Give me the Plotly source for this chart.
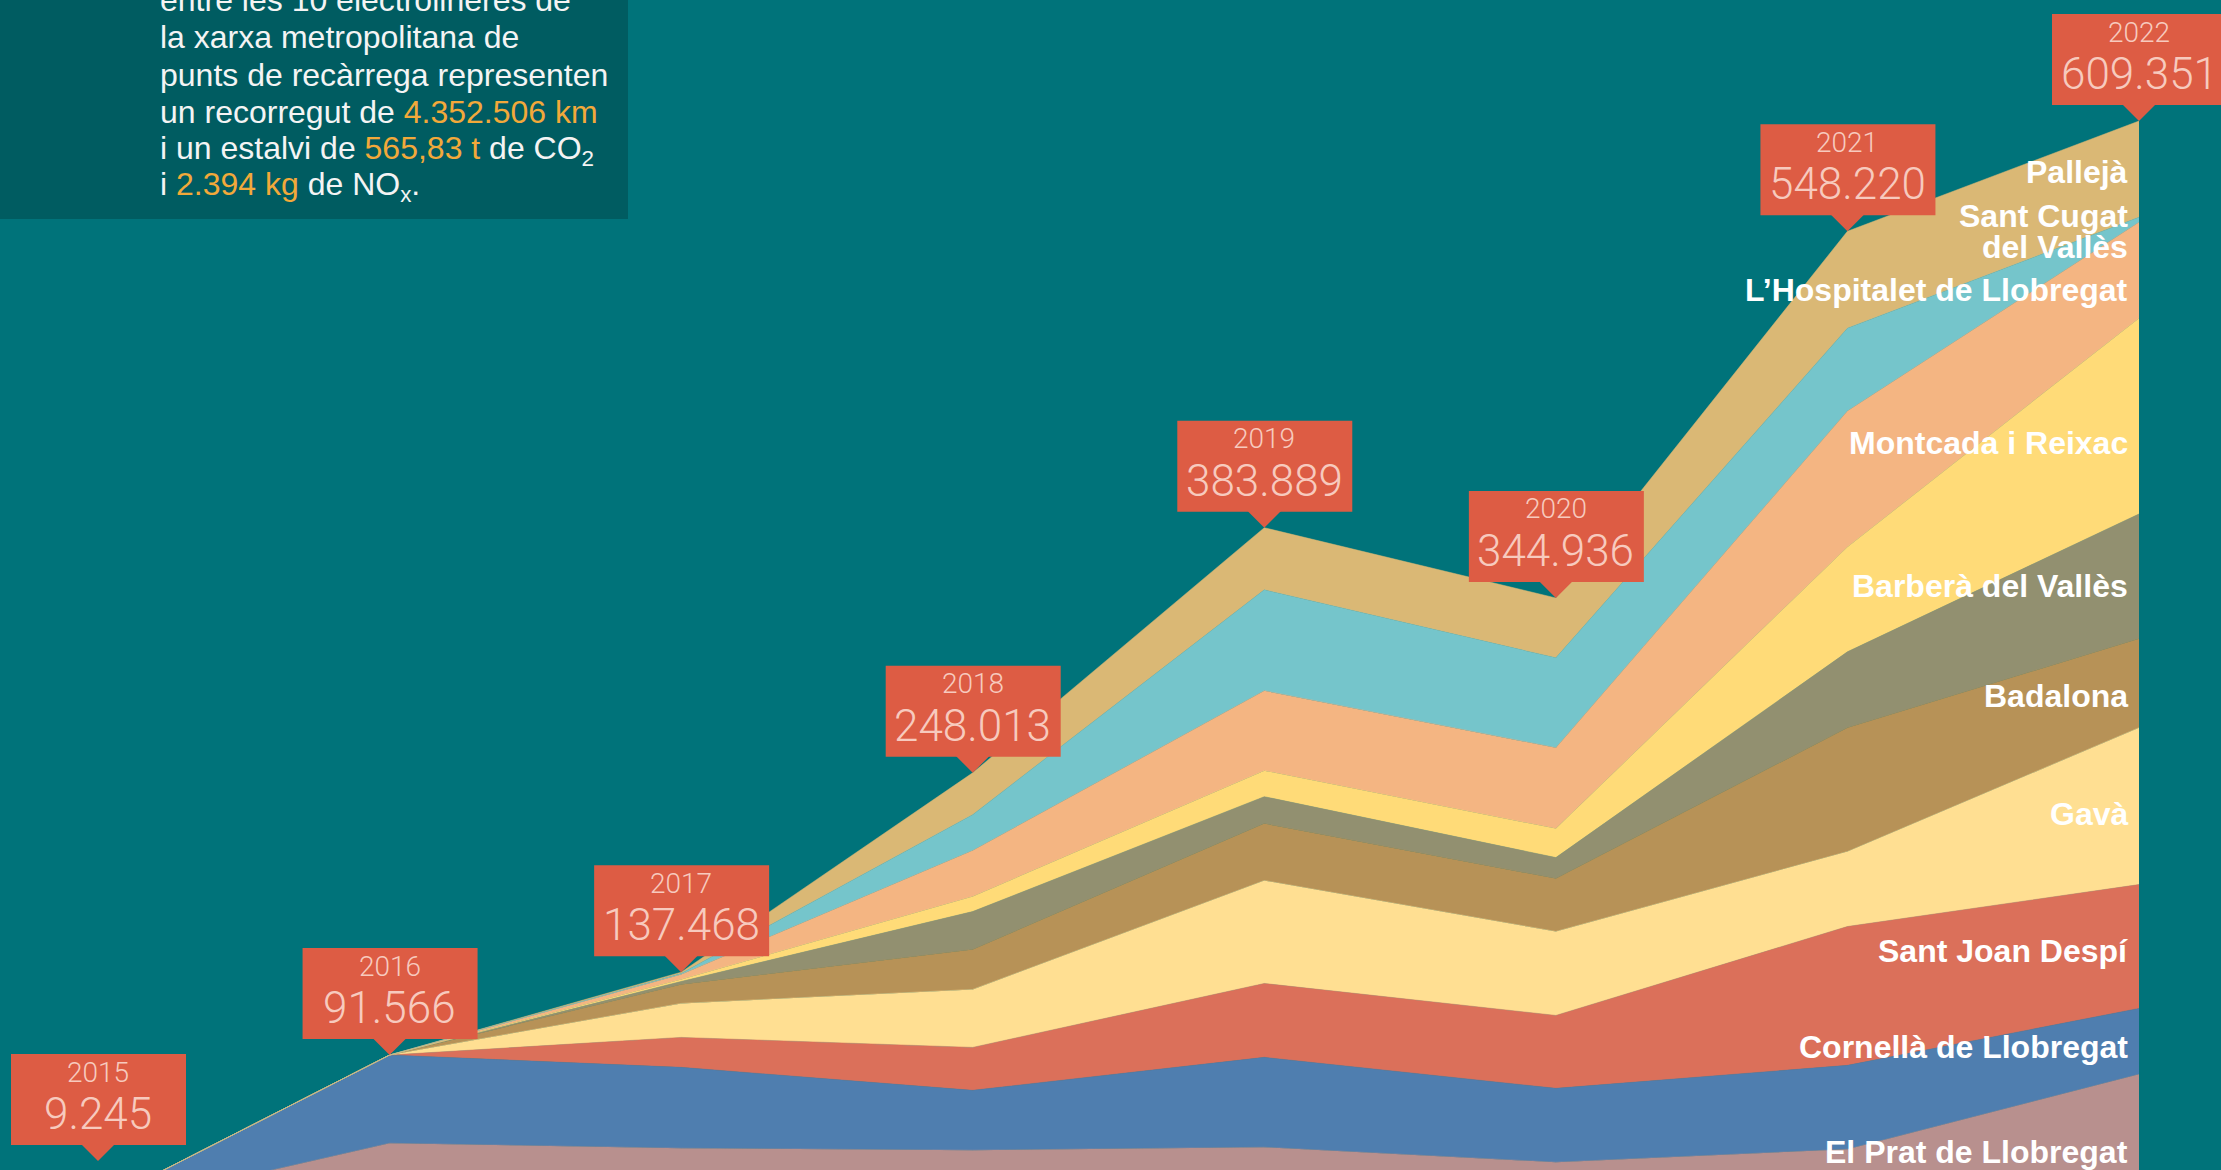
import plotly.graph_objects as go

# ---------------- data ----------------
years = [2015, 2016, 2017, 2018, 2019, 2020, 2021, 2022]
totals = [9245, 91566, 137468, 248013, 383889, 344936, 548220, 609351]

el_prat = [5760, 42640, 39870, 38760, 40430, 32120, 39320, 80850]
cornella = [3485, 48926, 44860, 33230, 49840, 40980, 46510, 36550]
sant_joan_despi = [0, 0, 16610, 23810, 40970, 40420, 76980, 68670]
gava = [0, 0, 18830, 32120, 57040, 46520, 41530, 86940]
badalona = [0, 0, 10520, 22150, 31570, 29350, 68670, 49290]
barbera = [0, 0, 1660, 21040, 14950, 11630, 42090, 69220]
montcada = [0, 0, 1110, 8310, 14400, 16060, 58140, 108540]
hospitalet = [0, 0, 2770, 25480, 44300, 44850, 75310, 53160]
sant_cugat = [0, 0, 550, 19930, 55930, 49840, 45970, 2770]
palleja = [0, 0, 688, 23183, 34459, 33166, 53700, 53361]

names = ["El Prat de Llobregat", "Cornellà de Llobregat", "Sant Joan Despí", "Gavà",
         "Badalona", "Barberà del Vallès", "Montcada i Reixac",
         "L’Hospitalet de Llobregat", "Sant Cugat del Vallès", "Pallejà"]
series = [el_prat, cornella, sant_joan_despi, gava, badalona, barbera, montcada,
          hospitalet, sant_cugat, palleja]

# ---------------- style ----------------
W, H = 2221, 1170
BG = "#00737A"
BOX = "#005C61"
CALLOUT = "#DD5C44"
CALLOUT_TXT = "#F7CABE"
ORANGE = "#F2A93A"
TXT = "#F4F4F4"
colors = ["#B8908E", "#4F7EAF", "#DB705A", "#FFDF92", "#B79257",
          "#929070", "#FFDB78", "#F4B582", "#75C5CB", "#DAB875"]

# axis geometry (pixel layout of the original)
first_px, last_px = 98, 2139
base_px, top_px = 1220.2, 121.0
step = (last_px - first_px) / (years[-1] - years[0])
x_lo = years[0] - first_px / step
x_hi = years[0] + (W - first_px) / step
k = (base_px - top_px) / totals[-1]          # px per unit
y_lo = (base_px - H) / k
y_hi = base_px / k
y_floor = (base_px - 1161) / k               # lowest callout anchor

fig = go.Figure()
for name, vals, col in zip(names, series, colors):
    fig.add_trace(go.Scatter(
        x=years, y=vals, name=name, mode="lines", stackgroup="one",
        line=dict(width=0.5, color=col), fillcolor=col, hoverinfo="x+y+name"))

shapes = []
annotations = []

# text box
shapes.append(dict(type="rect", xref="paper", yref="paper", x0=-0.01, x1=628 / W,
                   y0=1 - 219 / H, y1=1.05, fillcolor=BOX, line=dict(width=0)))

def py(px):
    return 1 - px / H

body_font = dict(family="Liberation Sans, Arial, sans-serif", size=32, color=TXT)
o = lambda s: f'<span style="color:{ORANGE}">{s}</span>'
lines = [
    "entre les 10 electrolineres de",
    "la xarxa metropolitana de",
    "punts de recàrrega representen",
    "un recorregut de " + o("4.352.506 km"),
    "i un estalvi de " + o("565,83 t") + " de CO<sub>2</sub>",
    "i " + o("2.394 kg") + " de NO<sub>x</sub>.",
]
line_centers = [0, 37, 75, 112, 150, 187]
for t, c in zip(lines, line_centers):
    annotations.append(dict(text=t, xref="paper", yref="paper", x=158 / W, y=py(c),
                            xanchor="left", yanchor="middle", showarrow=False,
                            font=body_font, align="left"))

# callouts
year_font = dict(family="Roboto, Liberation Sans, sans-serif", size=28, color=CALLOUT_TXT, weight=300)
val_font = dict(family="Roboto, Liberation Sans, sans-serif", size=44, color=CALLOUT_TXT, weight=300)
for yr, tot in zip(years, totals):
    anchor = max(tot, y_floor)
    shapes.append(dict(type="rect", xref="x", yref="y", xsizemode="pixel", ysizemode="pixel",
                       xanchor=yr, yanchor=anchor, x0=-87, x1=88, y0=16, y1=107,
                       fillcolor=CALLOUT, line=dict(width=0)))
    shapes.append(dict(type="path", xref="x", yref="y", xsizemode="pixel", ysizemode="pixel",
                       xanchor=yr, yanchor=anchor, path="M -17 17 L 17 17 L 0 0 Z",
                       fillcolor=CALLOUT, line=dict(width=0)))
    annotations.append(dict(text=str(yr), x=yr, y=anchor, xref="x", yref="y", yshift=89,
                            xanchor="center", yanchor="middle", showarrow=False, font=year_font))
    annotations.append(dict(text=f"{tot:,}".replace(",", "."), x=yr, y=anchor, xref="x", yref="y",
                            yshift=47, xanchor="center", yanchor="middle", showarrow=False,
                            font=val_font))

# series labels on the right
label_font = dict(family="Liberation Sans, Arial, sans-serif", size=32, color="#FFFFFF", weight="bold")
label_rows = [
    ("Pallejà", 172), ("Sant Cugat", 216), ("del Vallès", 247),
    ("L’Hospitalet de Llobregat", 290), ("Montcada i Reixac", 443),
    ("Barberà del Vallès", 586), ("Badalona", 696), ("Gavà", 814),
    ("Sant Joan Despí", 951), ("Cornellà de Llobregat", 1047),
    ("El Prat de Llobregat", 1152),
]
for t, c in label_rows:
    annotations.append(dict(text=t, xref="paper", yref="paper", x=2130 / W, y=py(c),
                            xanchor="right", yanchor="middle", showarrow=False, font=label_font))

fig.update_layout(
    width=W, height=H, margin=dict(l=0, r=0, t=0, b=0),
    paper_bgcolor=BG, plot_bgcolor=BG, showlegend=False,
    xaxis=dict(range=[x_lo, x_hi], visible=False, fixedrange=True),
    yaxis=dict(range=[y_lo, y_hi], visible=False, fixedrange=True),
    shapes=shapes, annotations=annotations,
)

fig.write_html("out.html", config={"displayModeBar": False},
               post_script="document.body.style.margin='0';document.body.style.background='" + BG + "';")
